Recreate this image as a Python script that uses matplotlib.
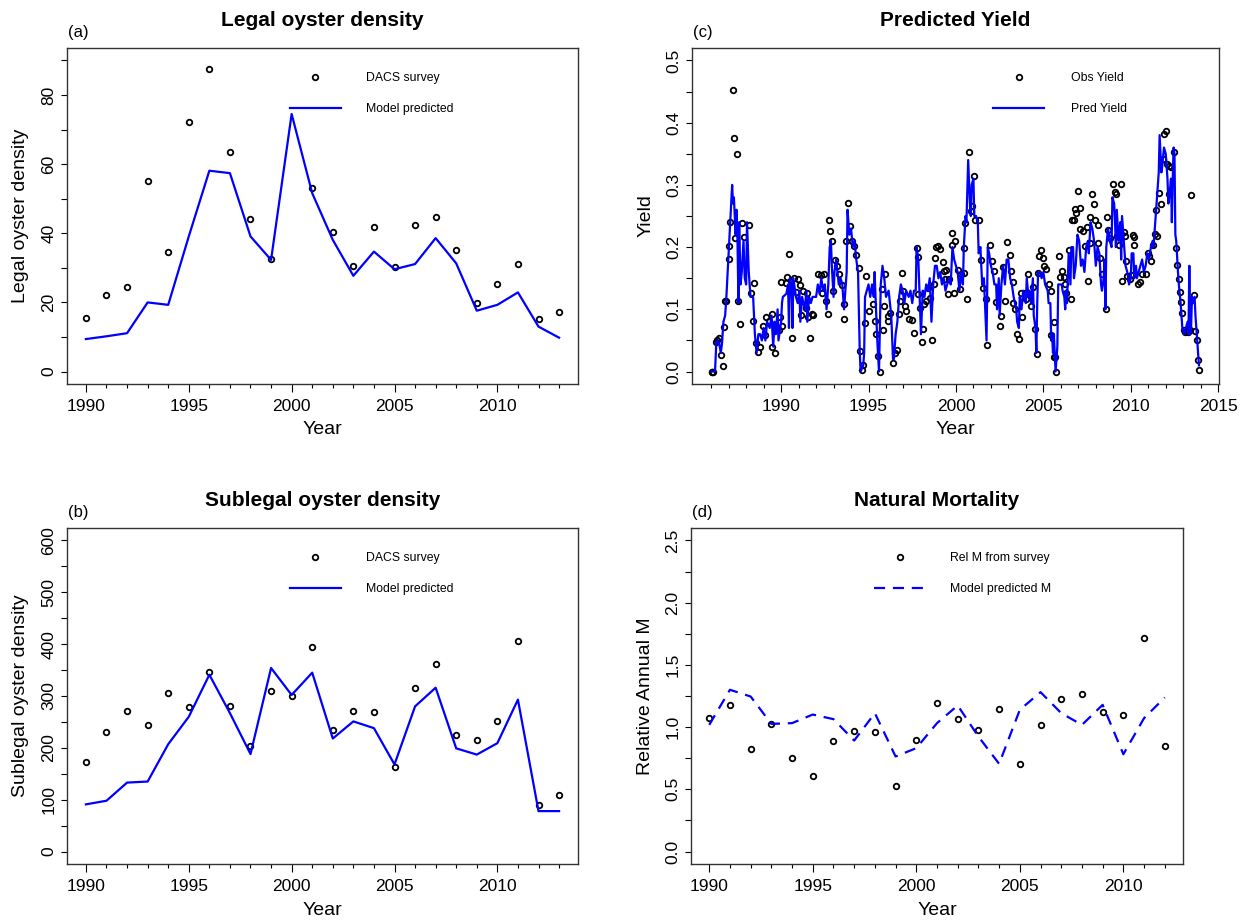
import matplotlib
matplotlib.use("Agg")
from matplotlib import pyplot as plt
from matplotlib.lines import Line2D
from matplotlib.ticker import MultipleLocator, FixedLocator

plt.rcParams['font.family'] = ['Liberation Sans', 'DejaVu Sans']

# ---- data ----
years = list(range(1990, 2014))

# (a) legal oyster density (2000 survey missing)
legal_obs_years = [1990, 1991, 1992, 1993, 1994, 1995, 1996, 1997, 1998, 1999,
                   2001, 2002, 2003, 2004, 2005, 2006, 2007, 2008, 2009, 2010,
                   2011, 2012, 2013]
legal_obs = [15.6, 22.1, 24.4, 55.2, 34.5, 72.3, 87.4, 63.4, 44.2, 32.6,
             53.2, 40.5, 30.6, 41.9, 30.3, 42.4, 44.7, 35.1, 19.9, 25.2,
             31.1, 15.3, 17.3]
legal_pred = [9.4, 10.2, 11.1, 20.0, 19.3, 39.1, 58.1, 57.4, 39.1, 32.3,
              74.5, 51.6, 38.1, 27.7, 34.7, 29.6, 31.1, 38.6, 31.3, 17.6,
              19.3, 22.9, 13.0, 9.8]

# (b) sublegal oyster density
sub_obs = [173, 231, 271, 244, 305, 278, 346, 280, 204, 310, 300, 395,
           235, 271, 269, 163, 316, 361, 225, 216, 252, 406, 90, 109]
sub_pred = [91, 98, 133, 135, 207, 260, 341, 267, 188, 354, 302, 345,
            218, 251, 238, 168, 280, 316, 199, 187, 209, 293, 78, 78]

# (c) yield, observed and predicted
yield_obs_t = [1986.02, 1986.05, 1986.10, 1986.28, 1986.36, 1986.47, 1986.57, 1986.65,
               1986.74, 1986.79, 1986.85, 1987.00, 1987.04, 1987.10, 1987.23, 1987.29,
               1987.37, 1987.46, 1987.56, 1987.63, 1987.75, 1987.90, 1988.15, 1988.26,
               1988.40, 1988.47, 1988.55, 1988.66, 1988.81, 1988.98, 1989.08, 1989.13,
               1989.30, 1989.47, 1989.49, 1989.63, 1989.89, 1989.92, 1990.00, 1990.04,
               1990.27, 1990.32, 1990.46, 1990.65, 1990.76, 1990.84, 1990.95, 1991.08,
               1991.14, 1991.27, 1991.41, 1991.46, 1991.52, 1991.65, 1991.79, 1991.84,
               1992.13, 1992.28, 1992.32, 1992.47, 1992.55, 1992.66, 1992.75, 1992.81,
               1992.92, 1992.98, 1993.11, 1993.19, 1993.32, 1993.46, 1993.57, 1993.61,
               1993.74, 1993.82, 1993.95, 1994.08, 1994.18, 1994.31, 1994.44, 1994.50,
               1994.60, 1994.71, 1994.80, 1994.88, 1995.00, 1995.25, 1995.38, 1995.44,
               1995.53, 1995.63, 1995.76, 1995.82, 1995.91, 1995.95, 1996.10, 1996.14,
               1996.25, 1996.39, 1996.52, 1996.63, 1996.77, 1996.80, 1996.90, 1996.96,
               1997.09, 1997.14, 1997.34, 1997.49, 1997.62, 1997.77, 1997.81, 1997.85,
               1997.96, 1998.06, 1998.12, 1998.20, 1998.29, 1998.42, 1998.50, 1998.61,
               1998.72, 1998.80, 1998.87, 1998.95, 1999.06, 1999.24, 1999.29, 1999.40,
               1999.44, 1999.56, 1999.62, 1999.76, 1999.80, 1999.90, 1999.95, 2000.13,
               2000.25, 2000.28, 2000.44, 2000.47, 2000.51, 2000.63, 2000.76, 2000.85,
               2000.93, 2001.04, 2001.08, 2001.33, 2001.42, 2001.56, 2001.71, 2001.80,
               2001.96, 2002.09, 2002.15, 2002.28, 2002.53, 2002.56, 2002.72, 2002.79,
               2002.94, 2003.08, 2003.13, 2003.25, 2003.29, 2003.36, 2003.51, 2003.61,
               2003.70, 2003.80, 2003.93, 2004.00, 2004.12, 2004.27, 2004.43, 2004.50,
               2004.62, 2004.69, 2004.77, 2004.88, 2004.96, 2005.05, 2005.15, 2005.30,
               2005.44, 2005.46, 2005.59, 2005.60, 2005.66, 2005.72, 2005.91, 2005.97,
               2006.06, 2006.16, 2006.25, 2006.31, 2006.44, 2006.58, 2006.64, 2006.73,
               2006.79, 2006.86, 2006.96, 2007.07, 2007.11, 2007.26, 2007.36, 2007.49,
               2007.58, 2007.64, 2007.68, 2007.77, 2007.90, 2007.96, 2008.10, 2008.15,
               2008.25, 2008.34, 2008.57, 2008.63, 2008.72, 2008.82, 2008.97, 2009.10,
               2009.13, 2009.24, 2009.33, 2009.43, 2009.45, 2009.51, 2009.60, 2009.66,
               2009.74, 2009.79, 2009.95, 2010.03, 2010.10, 2010.17, 2010.20, 2010.42,
               2010.53, 2010.66, 2010.85, 2010.99, 2011.04, 2011.18, 2011.29, 2011.37,
               2011.42, 2011.48, 2011.61, 2011.75, 2011.82, 2011.90, 2011.99, 2012.09,
               2012.18, 2012.20, 2012.28, 2012.47, 2012.56, 2012.66, 2012.75, 2012.81,
               2012.89, 2012.94, 2013.04, 2013.13, 2013.27, 2013.38, 2013.46, 2013.61,
               2013.70, 2013.80, 2013.84, 2013.93]
yield_obs = [0.000, 0.000, 0.000, 0.048, 0.050, 0.054, 0.026, 0.009,
             0.071, 0.114, 0.113, 0.181, 0.202, 0.240, 0.452, 0.376,
             0.215, 0.350, 0.113, 0.077, 0.238, 0.217, 0.235, 0.126,
             0.081, 0.142, 0.046, 0.031, 0.039, 0.073, 0.059, 0.087,
             0.082, 0.040, 0.093, 0.030, 0.066, 0.087, 0.144, 0.073,
             0.143, 0.152, 0.189, 0.054, 0.151, 0.128, 0.148, 0.139,
             0.091, 0.129, 0.102, 0.126, 0.087, 0.054, 0.092, 0.091,
             0.157, 0.155, 0.126, 0.156, 0.114, 0.093, 0.243, 0.226,
             0.210, 0.129, 0.180, 0.169, 0.156, 0.139, 0.109, 0.084,
             0.210, 0.271, 0.234, 0.210, 0.202, 0.187, 0.167, 0.033,
             0.003, 0.011, 0.078, 0.153, 0.097, 0.108, 0.081, 0.061,
             0.025, 0.000, 0.132, 0.066, 0.105, 0.156, 0.089, 0.082,
             0.094, 0.014, 0.030, 0.035, 0.092, 0.113, 0.159, 0.129,
             0.105, 0.098, 0.085, 0.083, 0.062, 0.199, 0.184, 0.124,
             0.102, 0.048, 0.068, 0.108, 0.113, 0.134, 0.118, 0.050,
             0.141, 0.182, 0.200, 0.202, 0.197, 0.176, 0.161, 0.148,
             0.164, 0.124, 0.148, 0.223, 0.203, 0.126, 0.210, 0.164,
             0.133, 0.156, 0.159, 0.199, 0.239, 0.117, 0.353, 0.258,
             0.266, 0.314, 0.244, 0.243, 0.180, 0.135, 0.116, 0.043,
             0.203, 0.177, 0.161, 0.111, 0.073, 0.089, 0.168, 0.113,
             0.208, 0.187, 0.161, 0.144, 0.110, 0.100, 0.061, 0.053,
             0.126, 0.087, 0.126, 0.117, 0.156, 0.105, 0.136, 0.068,
             0.028, 0.159, 0.185, 0.195, 0.183, 0.170, 0.165, 0.141,
             0.130, 0.059, 0.080, 0.023, 0.024, 0.000, 0.186, 0.152,
             0.162, 0.152, 0.141, 0.126, 0.195, 0.116, 0.244, 0.244,
             0.262, 0.255, 0.290, 0.263, 0.229, 0.226, 0.202, 0.232,
             0.145, 0.207, 0.248, 0.285, 0.270, 0.243, 0.235, 0.207,
             0.183, 0.157, 0.101, 0.249, 0.228, 0.215, 0.301, 0.288,
             0.286, 0.218, 0.204, 0.301, 0.221, 0.145, 0.224, 0.218,
             0.178, 0.153, 0.148, 0.155, 0.219, 0.216, 0.203, 0.141,
             0.144, 0.156, 0.157, 0.191, 0.186, 0.177, 0.204, 0.221,
             0.259, 0.218, 0.287, 0.270, 0.341, 0.381, 0.386, 0.333,
             0.286, 0.330, 0.328, 0.353, 0.199, 0.171, 0.148, 0.128,
             0.112, 0.094, 0.066, 0.063, 0.063, 0.066, 0.284, 0.123,
             0.065, 0.051, 0.019, 0.002]

yield_pred_t = [1986.05, 1986.22, 1986.30, 1986.45, 1986.55, 1986.62, 1986.70, 1986.80,
                1986.87, 1987.00, 1987.20, 1987.25, 1987.30, 1987.40, 1987.45, 1987.50,
                1987.56, 1987.60, 1987.68, 1987.75, 1987.85, 1987.92, 1988.00, 1988.05,
                1988.15, 1988.25, 1988.40, 1988.50, 1988.60, 1988.70, 1988.80, 1988.90,
                1989.00, 1989.10, 1989.20, 1989.35, 1989.45, 1989.55, 1989.62, 1989.70,
                1989.80, 1989.85, 1990.00, 1990.05, 1990.10, 1990.30, 1990.40, 1990.45,
                1990.50, 1990.60, 1990.65, 1990.70, 1990.85, 1990.95, 1991.05, 1991.10,
                1991.20, 1991.35, 1991.45, 1991.50, 1991.60, 1991.70, 1991.80, 1992.00,
                1992.10, 1992.20, 1992.30, 1992.40, 1992.50, 1992.60, 1992.70, 1992.78,
                1992.85, 1992.90, 1993.00, 1993.05, 1993.15, 1993.30, 1993.40, 1993.50,
                1993.60, 1993.75, 1993.80, 1993.90, 1994.00, 1994.10, 1994.20, 1994.30,
                1994.40, 1994.50, 1994.55, 1994.70, 1994.75, 1994.80, 1994.90, 1995.00,
                1995.10, 1995.20, 1995.30, 1995.35, 1995.40, 1995.50, 1995.60, 1995.70,
                1995.80, 1995.90, 1996.00, 1996.15, 1996.30, 1996.40, 1996.45, 1996.55,
                1996.65, 1996.75, 1996.85, 1996.95, 1997.05, 1997.15, 1997.30, 1997.40,
                1997.50, 1997.60, 1997.70, 1997.75, 1997.85, 1997.95, 1998.00, 1998.10,
                1998.20, 1998.30, 1998.40, 1998.50, 1998.60, 1998.70, 1998.80, 1998.90,
                1999.00, 1999.10, 1999.20, 1999.30, 1999.40, 1999.50, 1999.60, 1999.70,
                1999.80, 1999.90, 2000.00, 2000.10, 2000.20, 2000.30, 2000.40, 2000.45,
                2000.55, 2000.60, 2000.70, 2000.80, 2000.85, 2000.90, 2001.00, 2001.05,
                2001.15, 2001.25, 2001.30, 2001.40, 2001.50, 2001.60, 2001.75, 2001.82,
                2001.90, 2002.00, 2002.10, 2002.20, 2002.30, 2002.35, 2002.45, 2002.50,
                2002.60, 2002.70, 2002.80, 2002.90, 2003.00, 2003.10, 2003.20, 2003.30,
                2003.45, 2003.50, 2003.60, 2003.65, 2003.75, 2003.85, 2004.00, 2004.05,
                2004.15, 2004.20, 2004.30, 2004.40, 2004.45, 2004.55, 2004.60, 2004.65,
                2004.70, 2004.80, 2004.90, 2005.00, 2005.10, 2005.25, 2005.30, 2005.40,
                2005.45, 2005.50, 2005.55, 2005.60, 2005.70, 2005.80, 2005.85, 2006.05,
                2006.10, 2006.20, 2006.25, 2006.30, 2006.35, 2006.45, 2006.55, 2006.60,
                2006.70, 2006.75, 2006.85, 2006.95, 2007.05, 2007.15, 2007.25, 2007.35,
                2007.45, 2007.55, 2007.60, 2007.70, 2007.80, 2007.90, 2008.00, 2008.10,
                2008.20, 2008.30, 2008.35, 2008.45, 2008.50, 2008.55, 2008.60, 2008.70,
                2008.80, 2008.90, 2008.95, 2009.05, 2009.10, 2009.15, 2009.20, 2009.30,
                2009.40, 2009.45, 2009.50, 2009.60, 2009.70, 2009.80, 2009.90, 2010.00,
                2010.05, 2010.15, 2010.20, 2010.30, 2010.35, 2010.45, 2010.55, 2010.65,
                2010.75, 2010.85, 2010.95, 2011.05, 2011.15, 2011.25, 2011.30, 2011.45,
                2011.55, 2011.60, 2011.65, 2011.75, 2011.80, 2011.90, 2012.00, 2012.10,
                2012.15, 2012.20, 2012.30, 2012.35, 2012.40, 2012.45, 2012.50, 2012.55,
                2012.60, 2012.70, 2012.75, 2012.85, 2012.95, 2013.05, 2013.15, 2013.25,
                2013.30, 2013.35, 2013.40, 2013.45, 2013.50, 2013.55, 2013.65, 2013.70,
                2013.80, 2013.90]
yield_pred = [0.00, 0.00, 0.05, 0.047, 0.03, 0.045, 0.08, 0.09,
              0.12, 0.19, 0.30, 0.27, 0.28, 0.22, 0.26, 0.22,
              0.11, 0.24, 0.14, 0.16, 0.21, 0.15, 0.14, 0.24,
              0.16, 0.12, 0.12, 0.06, 0.03, 0.06, 0.06, 0.05,
              0.07, 0.05, 0.08, 0.07, 0.09, 0.04, 0.08, 0.06,
              0.10, 0.05, 0.08, 0.11, 0.12, 0.125, 0.14, 0.07,
              0.15, 0.14, 0.07, 0.15, 0.12, 0.11, 0.13, 0.08,
              0.12, 0.10, 0.13, 0.08, 0.12, 0.11, 0.12, 0.12,
              0.14, 0.125, 0.15, 0.13, 0.14, 0.10, 0.14, 0.20,
              0.21, 0.17, 0.12, 0.16, 0.18, 0.14, 0.15, 0.14,
              0.10, 0.16, 0.26, 0.22, 0.23, 0.20, 0.21, 0.18,
              0.16, 0.03, 0.00, 0.01, 0.03, 0.12, 0.13, 0.14,
              0.12, 0.14, 0.12, 0.16, 0.12, 0.05, 0.00, 0.14,
              0.17, 0.15, 0.12, 0.13, 0.09, 0.02, 0.02, 0.06,
              0.08, 0.12, 0.14, 0.13, 0.11, 0.13, 0.12, 0.13,
              0.11, 0.13, 0.13, 0.20, 0.18, 0.10, 0.06, 0.13,
              0.12, 0.14, 0.13, 0.15, 0.08, 0.14, 0.17, 0.17,
              0.15, 0.16, 0.14, 0.15, 0.13, 0.14, 0.15, 0.14,
              0.20, 0.18, 0.17, 0.16, 0.13, 0.16, 0.14, 0.20,
              0.25, 0.24, 0.34, 0.27, 0.25, 0.30, 0.31, 0.25,
              0.25, 0.24, 0.19, 0.20, 0.14, 0.15, 0.05, 0.20,
              0.19, 0.17, 0.16, 0.14, 0.14, 0.10, 0.15, 0.09,
              0.14, 0.17, 0.14, 0.18, 0.18, 0.15, 0.14, 0.12,
              0.10, 0.08, 0.07, 0.12, 0.10, 0.13, 0.11, 0.15,
              0.12, 0.13, 0.11, 0.15, 0.09, 0.07, 0.03, 0.11,
              0.16, 0.16, 0.15, 0.16, 0.14, 0.13, 0.11, 0.11,
              0.05, 0.06, 0.03, 0.06, 0.00, 0.04, 0.14, 0.14,
              0.13, 0.12, 0.10, 0.13, 0.11, 0.19, 0.14, 0.20,
              0.20, 0.15, 0.17, 0.22, 0.21, 0.17, 0.18, 0.16,
              0.20, 0.21, 0.19, 0.24, 0.23, 0.21, 0.17, 0.20,
              0.19, 0.14, 0.13, 0.15, 0.18, 0.10, 0.20, 0.23,
              0.21, 0.20, 0.28, 0.27, 0.24, 0.20, 0.26, 0.21,
              0.24, 0.18, 0.25, 0.21, 0.17, 0.16, 0.14, 0.15,
              0.19, 0.19, 0.15, 0.17, 0.15, 0.16, 0.17, 0.18,
              0.16, 0.17, 0.19, 0.18, 0.20, 0.21, 0.20, 0.26,
              0.30, 0.32, 0.38, 0.32, 0.33, 0.36, 0.35, 0.31,
              0.27, 0.28, 0.31, 0.24, 0.31, 0.36, 0.35, 0.22,
              0.21, 0.16, 0.14, 0.11, 0.07, 0.06, 0.07, 0.08,
              0.06, 0.17, 0.06, 0.07, 0.12, 0.11, 0.12, 0.09,
              0.05, 0.01]

# (d) natural mortality
m_years = list(range(1990, 2013))
m_obs = [1.072, 1.174, 0.828, 1.026, 0.750, 0.611, 0.892, 0.970, 0.957, 0.523,
         0.900, 1.190, 1.066, 0.978, 1.144, 0.705, 1.018, 1.222, 1.270, 1.120,
         1.096, 1.718, 0.852]
m_pred = [1.018, 1.300, 1.246, 1.026, 1.032, 1.101, 1.064, 0.892, 1.112, 0.764,
          0.831, 1.032, 1.174, 0.924, 0.705, 1.139, 1.281, 1.112, 1.018, 1.179,
          0.782, 1.072, 1.238]

W, H = 1249, 922
fig = plt.figure(figsize=(W / 100, H / 100), dpi=100)


def px_axes(left, top, right, bottom):
    return fig.add_axes([left / W, 1 - bottom / H, (right - left) / W, (bottom - top) / H])


def pad_lim(lo, hi):
    r = hi - lo
    return lo - 0.04 * r, hi + 0.04 * r


def style(ax, title, ylabel, ymaj, ymin, tag, xmajors, xminors):
    ax.set_title(title, fontsize=15, fontweight='bold', pad=15.5)
    ax.set_xlabel("Year", fontsize=14, va='center')
    ax.set_ylabel(ylabel, fontsize=14, va='center')
    ax.xaxis.set_label_coords(0.5, -46 / 336)
    w = ax.get_position().width * W
    ax.yaxis.set_label_coords(-46 / w, 0.5)
    ax.xaxis.set_major_locator(FixedLocator(xmajors))
    ax.xaxis.set_minor_locator(FixedLocator(xminors))
    ax.yaxis.set_major_locator(MultipleLocator(ymaj))
    ax.yaxis.set_minor_locator(MultipleLocator(ymin))
    ax.tick_params(axis='x', which='major', length=5.5, width=0.8, labelsize=12.5, pad=5)
    ax.tick_params(axis='x', which='minor', length=3.2, width=0.8)
    ax.tick_params(axis='y', which='both', length=4.5, width=0.8, labelsize=12.5, pad=3,
                   labelrotation=90)
    for lab in ax.get_yticklabels():
        lab.set_va('center')
    for s in ax.spines.values():
        s.set_linewidth(1.0)
        s.set_color('#333333')
    pos = ax.get_position()
    fig.text(pos.x0 + 1 / W, pos.y1 + 15 / H, tag, fontsize=12, va='center', ha='left')


def legend(ax, labels, x, dashed=False, tpad=2.0):
    h1 = Line2D([], [], ls='none', marker='o', mfc='none', mec='black', ms=4, mew=1.3)
    h2 = Line2D([], [], color='blue', lw=1.6, ls=(0, (5, 3.5)) if dashed else '-')
    ax.legend([h1, h2], labels, loc='upper left', bbox_to_anchor=(x, 0.928),
              frameon=False, fontsize=8.8, handlelength=4.2, handletextpad=tpad,
              labelspacing=1.55, borderpad=0, borderaxespad=0)


pt = dict(ls='none', marker='o', mfc='none', mec='black', ms=4, mew=1.3)
yr_major = list(range(1990, 2011, 5))
yr_minor = list(range(1990, 2014))

# (a)
ax = px_axes(67, 48, 578, 384)
ax.plot(legal_obs_years, legal_obs, **pt)
ax.plot(years, legal_pred, color='blue', lw=1.6)
ax.set_xlim(*pad_lim(1990, 2013))
ax.set_ylim(*pad_lim(0, 90))
style(ax, "Legal oyster density", "Legal oyster density", 20, 10, "(a)", yr_major, yr_minor)
legend(ax, ["DACS survey", "Model predicted"], 0.436)

# (b)
ax = px_axes(67, 528, 578, 864)
ax.plot(years, sub_obs, **pt)
ax.plot(years, sub_pred, color='blue', lw=1.6)
ax.set_xlim(*pad_lim(1990, 2013))
ax.set_ylim(*pad_lim(0, 600))
style(ax, "Sublegal oyster density", "Sublegal oyster density", 100, 50, "(b)", yr_major, yr_minor)
legend(ax, ["DACS survey", "Model predicted"], 0.436)

# (c)
ax = px_axes(692, 48, 1219, 384)
ax.plot(yield_obs_t, yield_obs, **pt)
ax.plot(yield_pred_t, yield_pred, color='blue', lw=1.6)
ax.set_xlim(*pad_lim(min(yield_obs_t), max(yield_obs_t)))
ax.set_ylim(*pad_lim(0, 0.5))
style(ax, "Predicted Yield", "Yield", 0.1, 0.05, "(c)",
      list(range(1990, 2016, 5)), list(range(1986, 2016)))
legend(ax, ["Obs Yield", "Pred Yield"], 0.571, tpad=2.2)

# (d)
ax = px_axes(691, 528, 1183, 864)
ax.plot(m_years, m_obs, **pt)
ax.plot(m_years, m_pred, color='blue', lw=1.6, ls=(0, (5, 3.5)))
ax.set_xlim(*pad_lim(1990, 2012))
ax.set_ylim(*pad_lim(0, 2.5))
style(ax, "Natural Mortality", "Relative Annual M", 0.5, 0.25, "(d)", yr_major, m_years)
legend(ax, ["Rel M from survey", "Model predicted M"], 0.372, dashed=True)

fig.savefig("out.png", dpi=100)
